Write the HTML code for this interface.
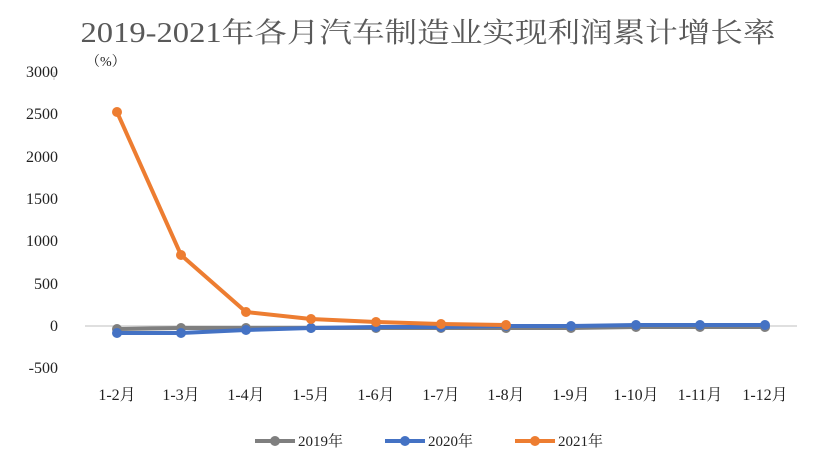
<!DOCTYPE html>
<html><head><meta charset="utf-8"><style>
body{margin:0;background:#fff;}
svg text{font-family:"Liberation Serif","Noto Serif CJK SC",serif;fill:#222;}
</style></head><body>
<svg width="820" height="465" xmlns="http://www.w3.org/2000/svg">
<text x="428" y="42" font-size="28" text-anchor="middle" textLength="695" lengthAdjust="spacingAndGlyphs" style="fill:#595959">2019-2021年各月汽车制造业实现利润累计增长率</text>
<text x="86" y="66" font-size="14">（%）</text>
<line x1="54" y1="72" x2="54" y2="80" stroke="#bfbfbf"/>
<g font-size="16" text-anchor="end">
<text x="58" y="77">3000</text><text x="58" y="119">2500</text><text x="58" y="162">2000</text>
<text x="58" y="204">1500</text><text x="58" y="246">1000</text><text x="58" y="289">500</text>
<text x="58" y="331">0</text><text x="58" y="373">-500</text>
</g>
<line x1="85" y1="326" x2="797" y2="326" stroke="#bfbfbf"/>
<g font-size="16" text-anchor="middle">
<text x="117" y="400">1-2月</text><text x="181" y="400">1-3月</text><text x="246" y="400">1-4月</text>
<text x="311" y="400">1-5月</text><text x="376" y="400">1-6月</text><text x="441" y="400">1-7月</text>
<text x="506" y="400">1-8月</text><text x="571" y="400">1-9月</text><text x="636" y="400">1-10月</text>
<text x="700" y="400">1-11月</text><text x="765" y="400">1-12月</text>
</g>
<g stroke-width="4" fill="none" stroke-linejoin="round">
<polyline stroke="#7f7f7f" points="117,329 181,328 246,328 311,328 376,328 441,328 506,328 571,328 636,327 700,327 765,327"/>
<polyline stroke="#4472c4" points="117,333 181,333 246,330 311,328 376,327 441,327 506,326 571,326 636,325 700,325 765,325"/>
<polyline stroke="#ed7d31" points="117,112 181,255 246,312 311,319 376,322 441,324 506,325"/>
</g>
<g fill="#7f7f7f"><circle cx="117" cy="329" r="5"/><circle cx="181" cy="328" r="5"/><circle cx="246" cy="328" r="5"/><circle cx="311" cy="328" r="5"/><circle cx="376" cy="328" r="5"/><circle cx="441" cy="328" r="5"/><circle cx="506" cy="328" r="5"/><circle cx="571" cy="328" r="5"/><circle cx="636" cy="327" r="5"/><circle cx="700" cy="327" r="5"/><circle cx="765" cy="327" r="5"/></g>
<g fill="#4472c4"><circle cx="117" cy="333" r="5"/><circle cx="181" cy="333" r="5"/><circle cx="246" cy="330" r="5"/><circle cx="311" cy="328" r="5"/><circle cx="376" cy="327" r="5"/><circle cx="441" cy="327" r="5"/><circle cx="506" cy="326" r="5"/><circle cx="571" cy="326" r="5"/><circle cx="636" cy="325" r="5"/><circle cx="700" cy="325" r="5"/><circle cx="765" cy="325" r="5"/></g>
<g fill="#ed7d31"><circle cx="117" cy="112" r="5"/><circle cx="181" cy="255" r="5"/><circle cx="246" cy="312" r="5"/><circle cx="311" cy="319" r="5"/><circle cx="376" cy="322" r="5"/><circle cx="441" cy="324" r="5"/><circle cx="506" cy="325" r="5"/></g>
<g font-size="15">
<line x1="255" y1="441" x2="295" y2="441" stroke="#7f7f7f" stroke-width="4"/><circle cx="275" cy="441" r="5" fill="#7f7f7f"/><text x="298" y="446">2019年</text>
<line x1="385" y1="441" x2="425" y2="441" stroke="#4472c4" stroke-width="4"/><circle cx="405" cy="441" r="5" fill="#4472c4"/><text x="428" y="446">2020年</text>
<line x1="515" y1="441" x2="555" y2="441" stroke="#ed7d31" stroke-width="4"/><circle cx="535" cy="441" r="5" fill="#ed7d31"/><text x="558" y="446">2021年</text>
</g>
</svg>
</body></html>
